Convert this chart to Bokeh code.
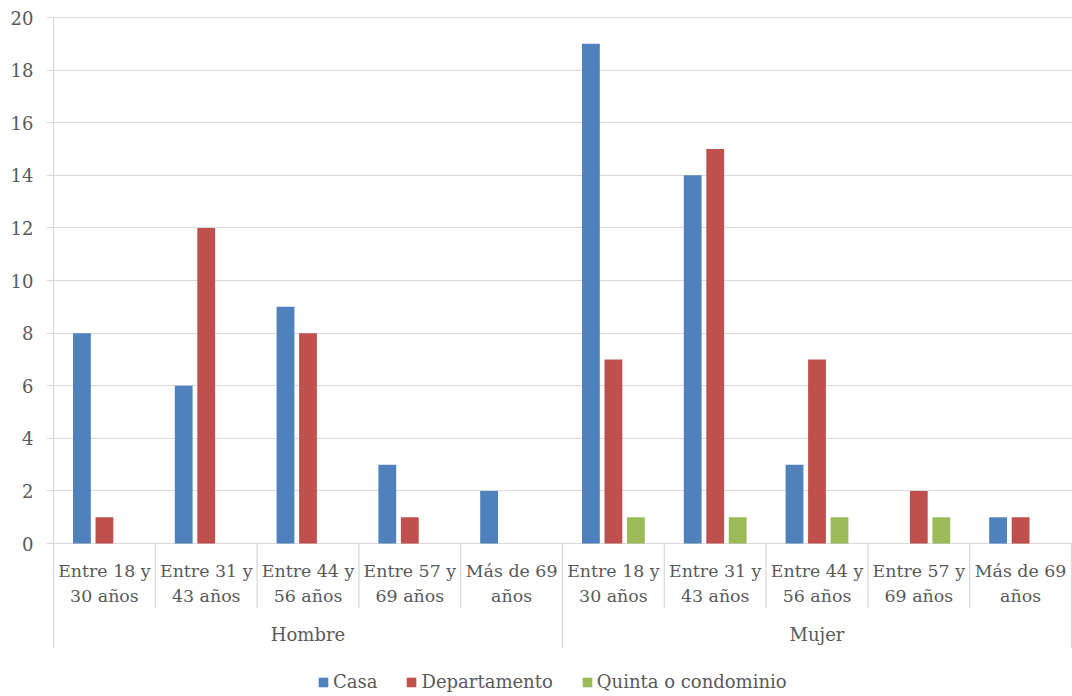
from bokeh.plotting import figure
from bokeh.models import Range1d, FixedTicker, Legend, LegendItem, ColumnDataSource
from bokeh.transform import dodge
from bokeh.core.properties import value
from bokeh.embed import file_html
from bokeh.resources import INLINE

# ---- data -------------------------------------------------------------
groups = ["Hombre", "Mujer"]
age_line1 = ["Entre 18 y", "Entre 31 y", "Entre 44 y", "Entre 57 y", "Más de 69"]
age_line2 = ["30 años", "43 años", "56 años", "69 años", "años"]
series_names = ["Casa", "Departamento", "Quinta o condominio"]
casa = [8, 6, 9, 3, 2, 19, 14, 3, 0, 1]
departamento = [1, 12, 8, 1, 0, 7, 15, 7, 2, 1]
quinta = [0, 0, 0, 0, 0, 1, 1, 1, 1, 0]
y_ticks = [0, 2, 4, 6, 8, 10, 12, 14, 16, 18, 20]

# ---- styling ----------------------------------------------------------
FONT = "DejaVu Serif"
FONT_SIZE = "18px"
CAT_FONT_SIZE = "17.4px"
TEXT_COLOR = "#595959"
GRID_COLOR = "#D9D9D9"
COLORS = ["#4F81BD", "#C0504D", "#9BBB59"]

n_cat = len(groups) * len(age_line1)
centers = [i + 0.5 for i in range(n_cat)]

source = ColumnDataSource(dict(
    x=centers,
    casa=casa,
    departamento=departamento,
    quinta=quinta,
    line1=age_line1 * len(groups),
    line2=age_line2 * len(groups),
))

p = figure(
    width=1072, height=696,
    x_range=Range1d(-0.01, n_cat + 0.01),
    y_range=Range1d(-5.815, 20.04),
    x_axis_location=None,
    toolbar_location=None,
    output_backend="svg",
    min_border_left=52, min_border_right=0,
    min_border_top=16, min_border_bottom=0,
)
p.outline_line_color = None
p.background_fill_color = "white"
p.border_fill_color = "white"

# y axis and horizontal gridlines
ticker = FixedTicker(ticks=y_ticks)
p.yaxis.ticker = ticker
p.ygrid.ticker = ticker
p.xgrid.visible = False
p.ygrid.grid_line_color = GRID_COLOR
p.ygrid.grid_line_width = 1
p.yaxis.axis_line_color = None
p.yaxis.major_tick_line_color = GRID_COLOR
p.yaxis.major_tick_in = 0
p.yaxis.major_tick_out = 6
p.yaxis.minor_tick_line_color = None
p.yaxis.major_label_standoff = 13
p.yaxis.major_label_text_font = FONT
p.yaxis.major_label_text_font_size = FONT_SIZE
p.yaxis.major_label_text_color = TEXT_COLOR

# bars, dodged within each category
bar_w = 0.175
step = 0.221
fields = ["casa", "departamento", "quinta"]
renderers = []
for k, (field, color) in enumerate(zip(fields, COLORS)):
    r = p.vbar(x=dodge("x", (k - 1) * step), top=field, width=bar_w,
               bottom=0, source=source, fill_color=color, line_color=None)
    renderers.append(r)

# category separators below the zero line
sep_x = list(range(n_cat + 1))
group_size = len(age_line1)
sep_bottom = [-3.99 if i % group_size == 0 else -2.47 for i in sep_x]
sep_top = [20 if i == 0 else 0 for i in sep_x]
p.segment(x0=sep_x, y0=sep_top, x1=sep_x, y1=sep_bottom,
          line_color=GRID_COLOR, line_width=1.3)

# two-line category labels
text_style = dict(text_font=value(FONT), text_color=TEXT_COLOR,
                  text_align="center", text_baseline="middle")
p.text(x="x", y=-1.03, text="line1", source=source,
       text_font_size=CAT_FONT_SIZE, **text_style)
p.text(x="x", y=-2.0, text="line2", source=source,
       text_font_size=CAT_FONT_SIZE, **text_style)

# group labels
group_x = [g * group_size + group_size / 2 for g in range(len(groups))]
p.text(x=group_x, y=[-3.44] * len(groups), text=groups,
       text_font_size=FONT_SIZE, **text_style)

# legend
legend = Legend(
    items=[LegendItem(label=name, renderers=[r]) for name, r in zip(series_names, renderers)],
    orientation="horizontal",
    location=(265, 4),
    glyph_width=12, glyph_height=12,
    label_standoff=4, spacing=28,
    padding=0, margin=0,
    border_line_color=None,
    background_fill_alpha=0,
    label_text_font=FONT,
    label_text_font_size=FONT_SIZE,
    label_text_color=TEXT_COLOR,
    label_height=20,
)
p.add_layout(legend, "center")

open("out.html", "w").write(file_html(p, INLINE))
